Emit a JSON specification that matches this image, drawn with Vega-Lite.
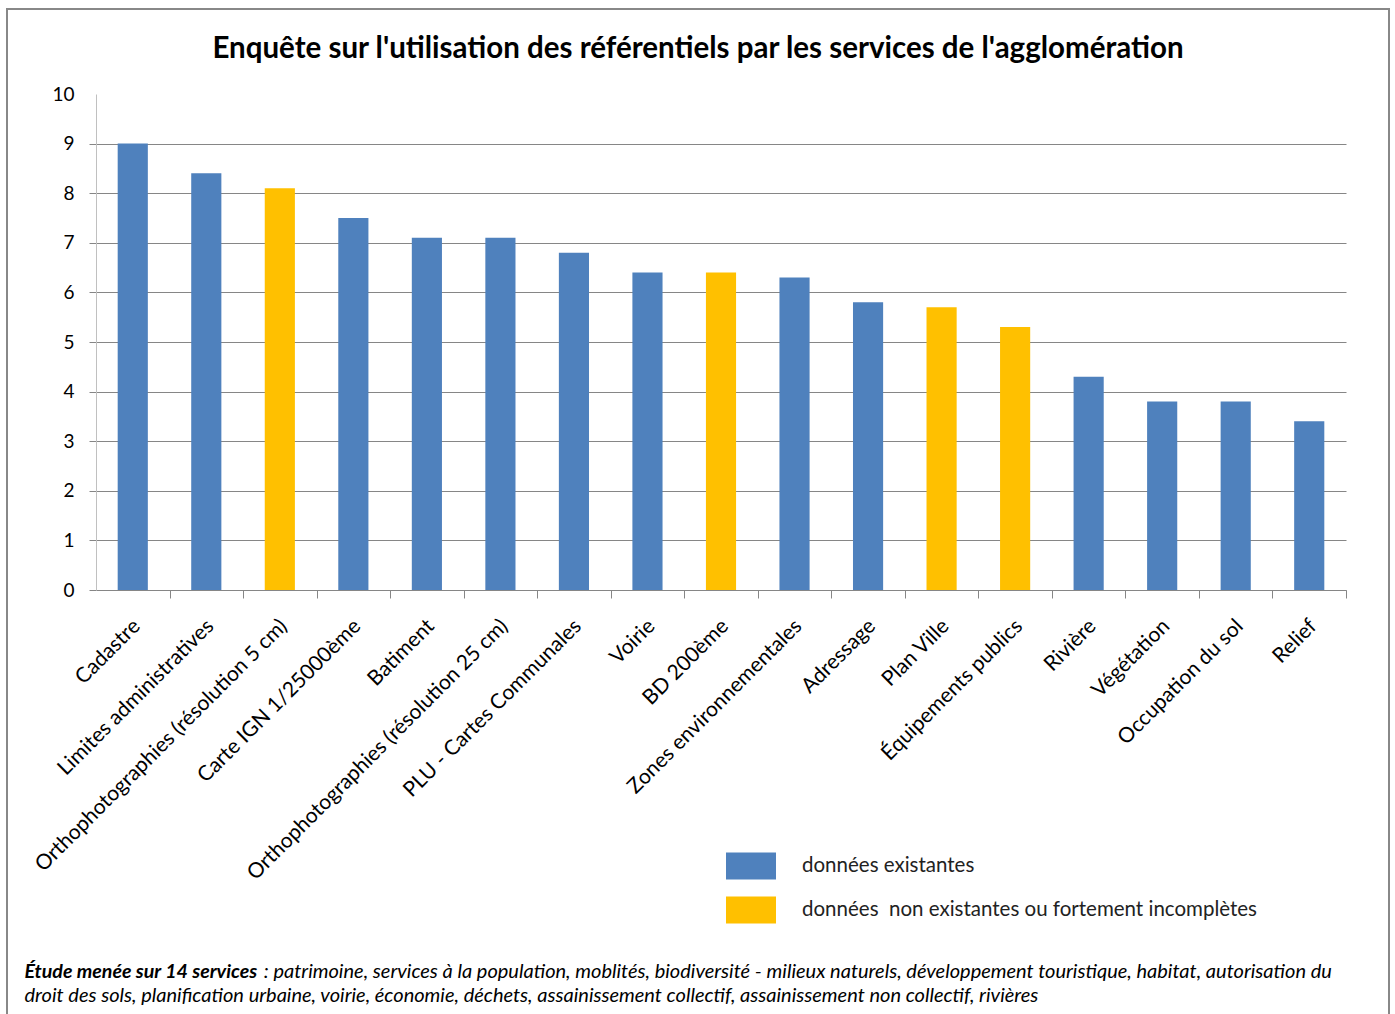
{
  "$schema": "https://vega.github.io/schema/vega-lite/v6.json",
  "autosize": "none",
  "width": 1382,
  "height": 1008,
  "padding": {"left": 7, "top": 9, "right": 6, "bottom": 0},
  "background": "white",
  "config": {
    "view": {"stroke": "#888888", "strokeWidth": 2},
    "font": "Lato"
  },
  "title": {
    "text": "Enquête sur l'utilisation des référentiels par les services de l'agglomération",
    "anchor": "middle",
    "frame": "group",
    "font": "Lato",
    "fontSize": 29.5,
    "fontWeight": "bold",
    "color": "#000000",
    "baseline": "alphabetic",
    "offset": -78
  },
  "data": {
    "values": [
      {"cat": "Cadastre", "value": 9.0, "status": "données existantes"},
      {"cat": "Limites administratives", "value": 8.4, "status": "données existantes"},
      {"cat": "Orthophotographies (résolution 5 cm)", "value": 8.1, "status": "données\u00a0 non existantes ou fortement incomplètes"},
      {"cat": "Carte IGN 1/25000ème", "value": 7.5, "status": "données existantes"},
      {"cat": "Batiment", "value": 7.1, "status": "données existantes"},
      {"cat": "Orthophotographies (résolution 25 cm)", "value": 7.1, "status": "données existantes"},
      {"cat": "PLU - Cartes Communales", "value": 6.8, "status": "données existantes"},
      {"cat": "Voirie", "value": 6.4, "status": "données existantes"},
      {"cat": "BD 200ème", "value": 6.4, "status": "données\u00a0 non existantes ou fortement incomplètes"},
      {"cat": "Zones environnementales", "value": 6.3, "status": "données existantes"},
      {"cat": "Adressage", "value": 5.8, "status": "données existantes"},
      {"cat": "Plan Ville", "value": 5.7, "status": "données\u00a0 non existantes ou fortement incomplètes"},
      {"cat": "Équipements publics", "value": 5.3, "status": "données\u00a0 non existantes ou fortement incomplètes"},
      {"cat": "Rivière", "value": 4.3, "status": "données existantes"},
      {"cat": "Végétation", "value": 3.8, "status": "données existantes"},
      {"cat": "Occupation du sol", "value": 3.8, "status": "données existantes"},
      {"cat": "Relief", "value": 3.4, "status": "données existantes"}
    ]
  },
  "mark": {"type": "bar"},
  "encoding": {
    "x": {
      "field": "cat",
      "type": "nominal",
      "sort": null,
      "scale": {"range": [89, 1339], "paddingInner": 0.59, "paddingOuter": 0.295},
      "axis": {
        "title": [
          "\u200b\u2003\u2003\u2003\u2003\u2003\u2003\u2003\u2003\u2003\u2003\u2003\u2003\u2003\u2003\u2002\u2002\u2002\u2002\u2009\u2009 : patrimoine, services à la population, moblités, biodiversité - milieux naturels, développement touristique, habitat, autorisation du",
          "droit des sols, planification urbaine, voirie, économie, déchets, assainissement collectif, assainissement non collectif, rivières"
        ],
        "titleX": 17,
        "titleY": 387,
        "titleAlign": "left",
        "titleAnchor": "start",
        "titleBaseline": "alphabetic",
        "titleFont": "Lato",
        "titleFontStyle": "italic",
        "titleFontWeight": "normal",
        "titleFontSize": 20,
        "titleLineHeight": 24,
        "titleColor": "#000000",
        "offset": -427,
        "bandPosition": 1,
        "tickOffset": 21.69,
        "tickExtra": false,
        "tickSize": 8,
        "tickColor": "#868686",
        "domainColor": "#868686",
        "labelAngle": -45,
        "labelAlign": "right",
        "labelBaseline": "top",
        "labelFont": "Lato",
        "labelFontSize": 21,
        "labelPadding": 17,
        "labelOffset": -25.69,
        "labelColor": "#000000",
        "labelLimit": 600,
        "grid": false
      }
    },
    "y": {
      "field": "value",
      "type": "quantitative",
      "scale": {"domain": [0, 10], "range": [581, 85], "nice": false},
      "axis": {
        "title": "Étude menée sur 14 services",
        "titleAngle": 0,
        "titleX": -72,
        "titleY": 968,
        "titleAlign": "left",
        "titleBaseline": "alphabetic",
        "titleFont": "Lato",
        "titleFontStyle": "italic",
        "titleFontWeight": "bold",
        "titleFontSize": 19.6,
        "titleColor": "#000000",
        "offset": -89,
        "values": [0, 1, 2, 3, 4, 5, 6, 7, 8, 9, 10],
        "tickSize": 7,
        "tickColor": "#868686",
        "tickOpacity": {"condition": {"test": "datum.value === 10", "value": 0}, "value": 1},
        "grid": true,
        "gridColor": "#868686",
        "gridOpacity": {"condition": {"test": "datum.value === 10", "value": 0}, "value": 1},
        "domainColor": "#C0C0C0",
        "labelFont": "Lato",
        "labelFontSize": 19,
        "labelPadding": 15,
        "labelColor": "#000000"
      }
    },
    "color": {
      "field": "status",
      "type": "nominal",
      "scale": {
        "domain": ["données existantes", "données\u00a0 non existantes ou fortement incomplètes"],
        "range": ["#4F81BD", "#FFC000"]
      },
      "legend": {
        "orient": "none",
        "legendX": 719,
        "legendY": 835,
        "title": null,
        "symbolType": "M-1,-0.54H1V0.54H-1Z",
        "symbolSize": 2500,
        "symbolStrokeWidth": 0,
        "symbolOpacity": 1,
        "labelFont": "Lato",
        "labelFontSize": 20.5,
        "labelOffset": 26,
        "labelColor": "#222222",
        "labelLimit": 700,
        "clipHeight": 44,
        "rowPadding": 0
      }
    }
  }
}
